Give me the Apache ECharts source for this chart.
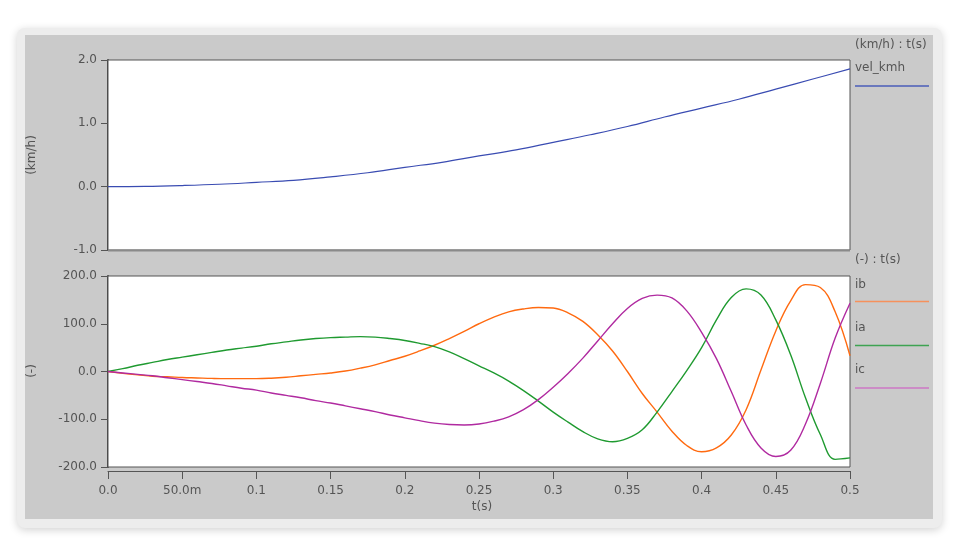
<!DOCTYPE html>
<html>
<head>
<meta charset="utf-8">
<script src="https://cdn.jsdelivr.net/npm/echarts@6/dist/echarts.min.js"></script>
<style>
html,body{margin:0;padding:0;background:#ffffff;}
#chart{width:960px;height:551px;}
</style>
</head>
<body>
<div id="chart"></div>
<script>
// ---- Data ----
const velTime = [0, 0.025, 0.05, 0.075, 0.1, 0.125, 0.15, 0.175, 0.2, 0.225, 0.25,
                 0.275, 0.3, 0.325, 0.35, 0.375, 0.4, 0.425, 0.45, 0.475, 0.5];
const velKmh = [0, 0.004, 0.018, 0.038, 0.068, 0.10, 0.155, 0.22, 0.305, 0.385, 0.485,
                0.58, 0.70, 0.82, 0.95, 1.10, 1.24, 1.38, 1.54, 1.70, 1.86];

const curTime = [0, 0.01, 0.02, 0.03, 0.04, 0.05, 0.06, 0.07, 0.08, 0.09,
                 0.10, 0.11, 0.12, 0.13, 0.14, 0.15, 0.16, 0.17, 0.18, 0.19,
                 0.20, 0.21, 0.22, 0.23, 0.24, 0.25, 0.26, 0.27, 0.28, 0.29,
                 0.30, 0.31, 0.32, 0.33, 0.34, 0.35, 0.36, 0.37, 0.38, 0.39,
                 0.40, 0.41, 0.42, 0.43, 0.44, 0.45, 0.46, 0.47, 0.48, 0.49, 0.50];
const ib = [0, -4, -7, -10, -11, -12.5, -13.5, -14.5, -15, -15,
            -15, -14, -12, -9, -6, -3, 1, 7, 14, 23,
            32, 43, 55, 69, 84, 100, 114, 125, 131, 134,
            133, 123, 105, 77, 43, 0, -46, -85, -125, -155,
            -168, -160, -133, -80, 3, 85, 148, 182, 176, 125, 33];
const ia = [0, 6, 13, 19, 25, 30, 35, 40, 45, 49,
            53, 58, 62, 66, 69, 71, 72, 73, 72, 69,
            65, 59, 52, 41, 27, 12, -3, -20, -40, -62,
            -85, -106, -126, -141, -147, -140, -122, -85, -42, 2,
            50, 108, 155, 173, 160, 108, 35, -55, -132, -184, -181];
const ic = [0, -3, -6, -9, -13, -17, -21, -25, -30, -35,
            -39, -45, -50, -55, -61, -66, -72, -78, -84, -91,
            -97, -103, -108, -111, -112, -110, -104, -95, -80, -59,
            -33, -4, 28, 64, 100, 132, 153, 160, 154, 127,
            82, 27, -42, -112, -160, -178, -165, -110, -25, 70, 143];

const xTickLabels = ['0.0', '50.0m', '0.1', '0.15', '0.2', '0.25', '0.3', '0.35', '0.4', '0.45', '0.5'];
const topTitle = '(km/h) : t(s)';
const bottomTitle = '(-) : t(s)';
const topSeriesNames = ['vel_kmh'];
const bottomSeriesNames = ['ib', 'ia', 'ic'];
const topUnit = '(km/h)';
const bottomUnit = '(-)';
const xName = 't(s)';

// ---- Styles ----
const FONT = 'DejaVu Sans';
const TXT = '#555555';
const colors = { vel_kmh: '#3a4cb2', ib: '#ff6a10', ia: '#1f9a30', ic: '#b02aa0' };
const legendColors = { vel_kmh: '#4a5cb8', ib: '#f6915c', ia: '#3ea352', ic: '#cc77c4' };

const pairs = (xs, ys) => xs.map((x, i) => [x, ys[i]]);

const chart = echarts.init(document.getElementById('chart'), null, { renderer: 'canvas' });

const axisLabelStyle = { color: TXT, fontFamily: FONT, fontSize: 12 };

const graphics = [
  { type: 'rect', z: -20, silent: true,
    shape: { x: 17, y: 28, width: 925, height: 500, r: 8 },
    style: { fill: '#ededed', shadowBlur: 8, shadowColor: 'rgba(0,0,0,0.18)', shadowOffsetY: 2 } },
  { type: 'rect', z: -19, silent: true,
    shape: { x: 25, y: 35, width: 908, height: 484 },
    style: { fill: '#cacaca' } },
  // y-axis unit names
  { type: 'text', x: 32, y: 155, rotation: Math.PI / 2, silent: true,
    style: { text: topUnit, fill: TXT, font: '12px ' + FONT, align: 'center', verticalAlign: 'middle' } },
  { type: 'text', x: 32, y: 371, rotation: Math.PI / 2, silent: true,
    style: { text: bottomUnit, fill: TXT, font: '12px ' + FONT, align: 'center', verticalAlign: 'middle' } },
  // x-axis name
  { type: 'text', x: 482, y: 507, silent: true,
    style: { text: xName, fill: TXT, font: '12px ' + FONT, align: 'center', verticalAlign: 'middle' } },
  // legend titles
  { type: 'text', x: 855, y: 45, silent: true,
    style: { text: topTitle, fill: TXT, font: '12px ' + FONT, align: 'left', verticalAlign: 'middle' } },
  { type: 'text', x: 855, y: 260, silent: true,
    style: { text: bottomTitle, fill: TXT, font: '12px ' + FONT, align: 'left', verticalAlign: 'middle' } },
  // lighter lower edge of the top plot frame
  { type: 'line', silent: true, z: 10,
    shape: { x1: 108, y1: 250.5, x2: 850, y2: 250.5 },
    style: { stroke: '#8a8a8a', lineWidth: 2 } }
];

function addLegendItem(name, textY, lineY) {
  graphics.push({ type: 'text', x: 855, y: textY, silent: true,
    style: { text: name, fill: TXT, font: '12px ' + FONT, align: 'left', verticalAlign: 'middle' } });
  graphics.push({ type: 'line', silent: true,
    shape: { x1: 855, y1: lineY, x2: 929, y2: lineY },
    style: { stroke: legendColors[name], lineWidth: 1.5 } });
}
addLegendItem(topSeriesNames[0], 68, 86);
addLegendItem(bottomSeriesNames[0], 285, 301.5);
addLegendItem(bottomSeriesNames[1], 328, 345.5);
addLegendItem(bottomSeriesNames[2], 370, 388);

const option = {
  backgroundColor: '#ffffff',
  animation: false,
  graphic: graphics,
  grid: [
    { left: 108, top: 60, width: 742, height: 190, show: true, backgroundColor: '#ffffff',
      borderColor: '#555555', borderWidth: 1, z: 1 },
    { left: 108, top: 276, width: 742, height: 191, show: true, backgroundColor: '#ffffff',
      borderColor: '#555555', borderWidth: 1, z: 1 }
  ],
  xAxis: [
    { type: 'value', gridIndex: 0, min: 0, max: 0.5, interval: 0.05,
      axisLine: { show: false }, axisTick: { show: false }, axisLabel: { show: false },
      splitLine: { show: false } },
    { type: 'value', gridIndex: 1, min: 0, max: 0.5, interval: 0.05, offset: 4,
      axisLine: { show: true, onZero: false, lineStyle: { color: '#555555', width: 1 } },
      axisTick: { show: true, length: 8, inside: false, lineStyle: { color: '#555555' } },
      axisLabel: Object.assign({}, axisLabelStyle, { margin: 14,
        formatter: (v) => xTickLabels[Math.round(v / 0.05)] }),
      splitLine: { show: false } }
  ],
  yAxis: [
    { type: 'value', gridIndex: 0, min: -1, max: 2, interval: 1,
      axisLine: { show: true, lineStyle: { color: '#444444', width: 2 } },
      axisTick: { show: true, length: 7, lineStyle: { color: '#555555' } },
      axisLabel: Object.assign({}, axisLabelStyle, { margin: 11, formatter: (v) => v.toFixed(1) }),
      splitLine: { show: false } },
    { type: 'value', gridIndex: 1, min: -200, max: 200, interval: 100,
      axisLine: { show: true, lineStyle: { color: '#444444', width: 2 } },
      axisTick: { show: true, length: 7, lineStyle: { color: '#555555' } },
      axisLabel: Object.assign({}, axisLabelStyle, { margin: 11, formatter: (v) => v.toFixed(1) }),
      splitLine: { show: false } }
  ],
  series: [
    { name: topSeriesNames[0], type: 'line', xAxisIndex: 0, yAxisIndex: 0,
      data: pairs(velTime, velKmh), smooth: 0.4, showSymbol: false,
      lineStyle: { color: colors.vel_kmh, width: 1.2 } },
    { name: bottomSeriesNames[0], type: 'line', xAxisIndex: 1, yAxisIndex: 1,
      data: pairs(curTime, ib), smooth: 0.4, showSymbol: false,
      lineStyle: { color: colors.ib, width: 1.4 } },
    { name: bottomSeriesNames[1], type: 'line', xAxisIndex: 1, yAxisIndex: 1,
      data: pairs(curTime, ia), smooth: 0.4, showSymbol: false,
      lineStyle: { color: colors.ia, width: 1.4 } },
    { name: bottomSeriesNames[2], type: 'line', xAxisIndex: 1, yAxisIndex: 1,
      data: pairs(curTime, ic), smooth: 0.4, showSymbol: false,
      lineStyle: { color: colors.ic, width: 1.4 } }
  ]
};
chart.setOption(option);
</script>
</body>
</html>
